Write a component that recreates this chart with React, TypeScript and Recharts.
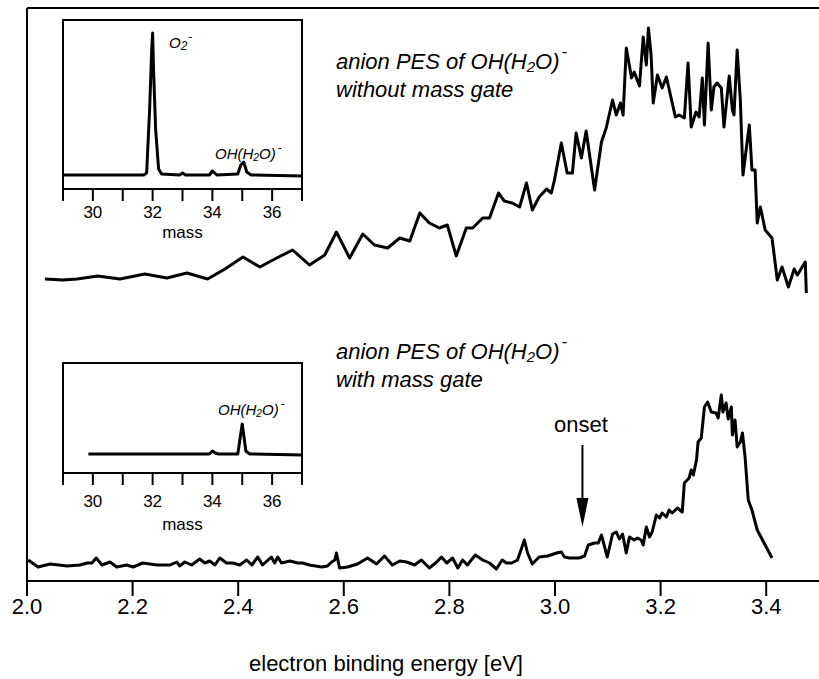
import React from "react";
import {
  LineChart,
  Line,
  XAxis,
  YAxis,
  ReferenceLine,
  ReferenceArea,
  ReferenceDot,
  Label,
} from "recharts";

const FONT = '"Liberation Sans", Arial, Helvetica, sans-serif';

// photoelectron spectra, both traces on one offset intensity scale (arb. units)
const noGateEnergy = [
  2.034, 2.068, 2.095, 2.134, 2.176, 2.223, 2.265, 2.303, 2.342, 2.375, 2.409, 2.441, 2.473, 2.503,
  2.535, 2.564, 2.586, 2.611, 2.636, 2.658, 2.683, 2.706, 2.725, 2.744, 2.762, 2.781, 2.796, 2.813,
  2.832, 2.844, 2.863, 2.876, 2.893, 2.904, 2.919, 2.933, 2.946, 2.957, 2.97, 2.984, 2.993, 2.999,
  3.012, 3.023, 3.033, 3.04, 3.05, 3.059, 3.075, 3.088, 3.097, 3.109, 3.116, 3.124, 3.129, 3.135,
  3.145, 3.15, 3.16, 3.167, 3.173, 3.177, 3.182, 3.186, 3.194, 3.203, 3.211, 3.228, 3.235, 3.245,
  3.252, 3.258, 3.267, 3.273, 3.279, 3.283, 3.29, 3.296, 3.301, 3.307, 3.315, 3.32, 3.33, 3.336,
  3.339, 3.345, 3.351, 3.356, 3.368, 3.373, 3.379, 3.383, 3.389, 3.398, 3.411, 3.421, 3.43, 3.442,
  3.453, 3.459, 3.474, 3.476,
];
const noGateSignal = [
  302, 301, 302, 305, 302, 307, 303, 308, 302, 312, 324, 314, 323, 331,
  316, 326, 349, 323, 347, 336, 333, 343, 340, 368, 358, 353, 356, 325,
  353, 353, 363, 363, 388, 380, 378, 374, 398, 371, 384, 392, 388, 401,
  438, 408, 408, 448, 423, 450, 391, 439, 453, 481, 466, 478, 466, 533,
  503, 509, 495, 544, 516, 553, 526, 478, 506, 493, 504, 464, 466, 463,
  518, 454, 469, 464, 503, 456, 538, 471, 494, 498, 493, 454, 505, 471,
  466, 531, 481, 406, 456, 411, 411, 358, 374, 351, 343, 301, 314, 294,
  312, 306, 319, 288,
];

const gateEnergy = [
  2.002, 2.021, 2.044, 2.076, 2.1, 2.114, 2.123, 2.131, 2.142, 2.157, 2.17, 2.189, 2.201, 2.219,
  2.246, 2.271, 2.284, 2.289, 2.299, 2.312, 2.327, 2.337, 2.346, 2.356, 2.365, 2.378, 2.39, 2.403,
  2.416, 2.426, 2.437, 2.446, 2.463, 2.469, 2.475, 2.482, 2.498, 2.513, 2.522, 2.535, 2.558, 2.569,
  2.577, 2.583, 2.586, 2.592, 2.607, 2.626, 2.645, 2.662, 2.677, 2.692, 2.706, 2.719, 2.734, 2.747,
  2.762, 2.776, 2.785, 2.795, 2.806, 2.816, 2.825, 2.834, 2.849, 2.863, 2.876, 2.889, 2.9, 2.908,
  2.918, 2.929, 2.942, 2.948, 2.957, 2.97, 2.986, 3.003, 3.012, 3.018, 3.027, 3.046, 3.056, 3.063,
  3.075, 3.082, 3.088, 3.093, 3.099, 3.109, 3.116, 3.122, 3.128, 3.135, 3.141, 3.15, 3.156, 3.163,
  3.167, 3.173, 3.179, 3.184, 3.192, 3.198, 3.203, 3.211, 3.216, 3.222, 3.232, 3.241, 3.245, 3.254,
  3.258, 3.262, 3.268, 3.271, 3.277, 3.283, 3.289, 3.296, 3.305, 3.309, 3.315, 3.318, 3.324, 3.328,
  3.334, 3.336, 3.341, 3.345, 3.351, 3.355, 3.36, 3.366, 3.373, 3.383, 3.396, 3.411,
];
const gateSignal = [
  21, 14, 17, 15, 16, 18, 18, 23, 16, 19, 14, 16, 14, 18,
  16, 16, 19, 15, 19, 16, 22, 18, 20, 16, 23, 18, 18, 16,
  21, 16, 24, 16, 24, 18, 24, 18, 20, 18, 18, 16, 14, 15,
  19, 21, 28, 13, 14, 17, 23, 17, 25, 16, 20, 19, 16, 21,
  13, 19, 24, 18, 23, 13, 21, 16, 26, 21, 18, 12, 21, 18,
  18, 21, 41, 28, 17, 24, 25, 28, 29, 24, 23, 23, 25, 36,
  38, 38, 46, 36, 24, 47, 49, 42, 47, 28, 44, 41, 43, 41,
  36, 54, 44, 49, 66, 63, 68, 64, 71, 68, 73, 69, 98, 103,
  111, 106, 121, 139, 143, 174, 179, 169, 168, 163, 186, 169, 178, 162,
  174, 146, 161, 134, 139, 148, 124, 81, 71, 51, 38, 23,
];

// mass spectra in the insets
const massNoGate = [
  29, 31.7, 31.8, 31.9, 31.97, 32.0, 32.03, 32.1, 32.2, 32.3, 32.9, 33.0, 33.1, 33.9, 34.0, 34.15,
  34.85, 34.95, 35.05, 35.15, 35.3, 37,
];
const ionsNoGate = [14, 14, 16, 80, 140, 156, 120, 60, 20, 15, 14, 16, 14, 14, 18, 14, 15, 24, 27, 17, 14, 13];

const massGate = [29.85, 33.9, 34.0, 34.1, 34.2, 34.85, 34.93, 35.0, 35.05, 35.12, 35.25, 37];
const ionsGate = [19, 19, 22, 20, 19, 19, 35, 49, 38, 22, 19, 18];

const energyTicks = [2.0, 2.2, 2.4, 2.6, 2.8, 3.0, 3.2, 3.4];
const massTicks = [29, 30, 31, 32, 33, 34, 35, 36, 37];

const zip = (xs: number[], ys: number[]) => xs.map((x, i) => ({ x, y: ys[i] }));

const noGate = zip(noGateEnergy, noGateSignal);
const withGate = zip(gateEnergy, gateSignal);
const insetTop = zip(massNoGate, ionsNoGate);
const insetBottom = zip(massGate, ionsGate);

const Ion = ({ size }: { size: number }) => (
  <span style={{ fontStyle: "italic", fontSize: size }}>
    OH(H<span style={{ fontSize: "0.68em", position: "relative", top: "0.2em" }}>2</span>O)
    <span style={{ fontSize: "0.75em", position: "relative", top: "-0.75em", marginLeft: 2 }}>-</span>
  </span>
);

const text = (left: number, top: number, extra: React.CSSProperties = {}): React.CSSProperties => ({
  position: "absolute",
  left,
  top,
  whiteSpace: "nowrap",
  fontFamily: FONT,
  color: "#000",
  ...extra,
});

function MassInset({
  data,
  top,
  height,
  plotHeight,
  tickGap,
}: {
  data: { x: number; y: number }[];
  top: number;
  height: number;
  plotHeight: number;
  tickGap: number;
}) {
  return (
    <div style={{ position: "absolute", left: 43, top }}>
      <LineChart width={280} height={height} margin={{ top: 10, left: 20, right: 21, bottom: 0 }}>
        <XAxis
          dataKey="x"
          type="number"
          domain={[29, 37]}
          ticks={massTicks}
          interval={0}
          height={height - 10 - plotHeight}
          tickSize={12}
          tickMargin={tickGap}
          tickFormatter={(v) => (v % 2 === 0 ? String(v) : "")}
          axisLine={{ stroke: "#000", strokeWidth: 2 }}
          tickLine={{ stroke: "#000", strokeWidth: 2 }}
          tick={{ fill: "#000", fontSize: 17, fontFamily: FONT }}
        >
          <Label value="mass" position="insideBottom" offset={8} fill="#000" fontSize={17} fontFamily={FONT} />
        </XAxis>
        <YAxis hide domain={[0, plotHeight]} />
        <ReferenceArea
          x1={29}
          x2={37}
          y1={0}
          y2={plotHeight}
          fill="none"
          fillOpacity={0}
          stroke="#000"
          strokeWidth={2}
          ifOverflow="visible"
        />
        <Line
          data={data}
          dataKey="y"
          stroke="#000"
          strokeWidth={3}
          dot={false}
          isAnimationActive={false}
          strokeLinejoin="round"
        />
      </LineChart>
    </div>
  );
}

export default function App() {
  return (
    <div
      style={{
        position: "absolute",
        left: 0,
        top: 0,
        width: 819,
        height: 679,
        background: "#fff",
        fontFamily: FONT,
      }}
    >
      <LineChart width={819} height={679} margin={{ top: 8, right: 0, left: 27, bottom: 0 }}>
        <XAxis
          dataKey="x"
          type="number"
          domain={[2.0, 3.5]}
          ticks={energyTicks}
          interval={0}
          height={98}
          tickSize={15}
          tickMargin={2}
          tickFormatter={(v) => v.toFixed(1)}
          axisLine={{ stroke: "#000", strokeWidth: 2 }}
          tickLine={{ stroke: "#000", strokeWidth: 2 }}
          tick={{ fill: "#000", fontSize: 22, fontFamily: FONT }}
        >
          <Label
            value="electron binding energy [eV]"
            position="insideBottom"
            offset={8}
            dx={-37}
            fill="#000"
            fontSize={22}
            fontFamily={FONT}
          />
        </XAxis>
        <YAxis hide domain={[0, 573]} />
        <ReferenceLine y={573} stroke="#000" strokeWidth={2} />
        <ReferenceLine x={2.0} stroke="#000" strokeWidth={2} />
        <ReferenceLine
          segment={[
            { x: 3.052, y: 136 },
            { x: 3.052, y: 80 },
          ]}
          stroke="#000"
          strokeWidth={2}
        />
        <ReferenceDot
          x={3.052}
          y={54}
          r={1}
          shape={(p: any) => (
            <polygon
              points={`${p.cx},${p.cy} ${p.cx - 6},${p.cy - 29} ${p.cx + 6},${p.cy - 29}`}
              fill="#000"
            />
          )}
        />
        <Line
          data={noGate}
          dataKey="y"
          stroke="#000"
          strokeWidth={3}
          dot={false}
          isAnimationActive={false}
          strokeLinejoin="round"
        />
        <Line
          data={withGate}
          dataKey="y"
          stroke="#000"
          strokeWidth={3}
          dot={false}
          isAnimationActive={false}
          strokeLinejoin="round"
        />
      </LineChart>

      <MassInset data={insetTop} top={10} height={236} plotHeight={169} tickGap={5} />
      <MassInset data={insetBottom} top={353} height={185} plotHeight={110} tickGap={10} />

      <div style={text(336, 49, { fontSize: 22, lineHeight: "26px", fontStyle: "italic" })}>
        anion PES of <Ion size={22} />
        <br />
        without mass gate
      </div>
      <div style={text(336, 339, { fontSize: 22, lineHeight: "26px", fontStyle: "italic" })}>
        anion PES of <Ion size={22} />
        <br />
        with mass gate
      </div>
      <div style={text(554, 412, { fontSize: 22, lineHeight: "26px" })}>onset</div>
      <div style={text(169, 34, { fontSize: 15, lineHeight: "18px", fontStyle: "italic" })}>
        O<span style={{ fontSize: "0.8em", position: "relative", top: "0.15em" }}>2</span>
        <span style={{ fontSize: "0.8em", position: "relative", top: "-0.6em", marginLeft: 1 }}>-</span>
      </div>
      <div style={text(215, 145, { lineHeight: "18px" })}>
        <Ion size={15} />
      </div>
      <div style={text(218, 401, { lineHeight: "18px" })}>
        <Ion size={15} />
      </div>
    </div>
  );
}
